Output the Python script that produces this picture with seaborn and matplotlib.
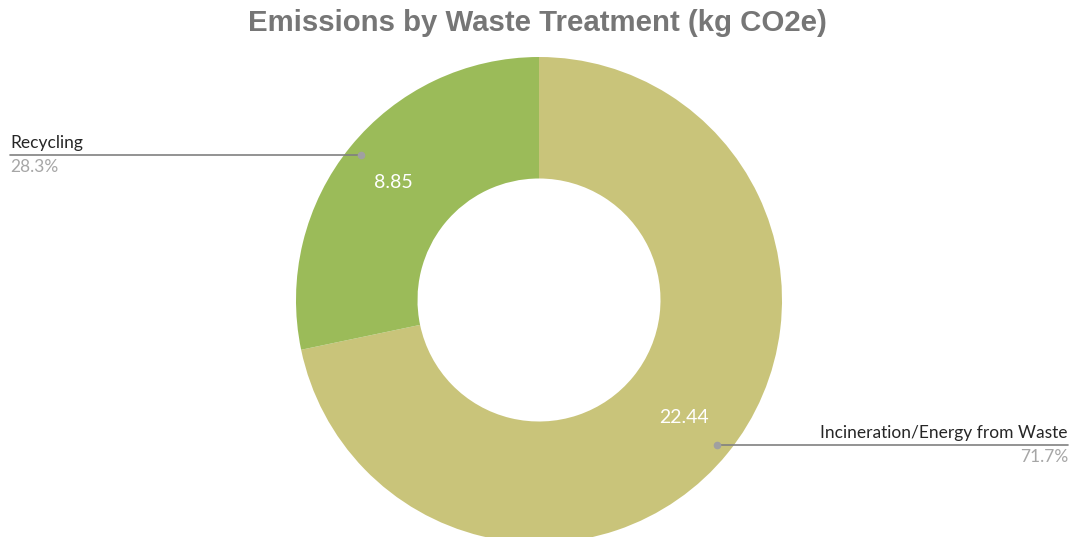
import matplotlib
matplotlib.use("Agg")
import matplotlib.pyplot as plt
import numpy as np
import seaborn as sns

categories = ["Incineration/Energy from Waste", "Recycling"]
values = [22.44, 8.85]
colors = ["#C9C47A", "#9BBB59"]
title = "Emissions by Waste Treatment (kg CO2e)"

sns.set_style("white")
plt.rcParams["font.family"] = ["Lato", "DejaVu Sans"]

W, H = 1075, 537
fig = plt.figure(figsize=(W / 100, H / 100), dpi=100)
ax = fig.add_axes([0, 0, 1, 1])

cx, cy, R = 539, H - 300, 243
total = sum(values)
wedges, _, autotexts = ax.pie(
    values, colors=colors, startangle=90, counterclock=False,
    center=(cx, cy), radius=R, frame=True,
    wedgeprops=dict(width=R * 0.5, edgecolor="none"),
    autopct=lambda p: f"{p * total / 100:.2f}", pctdistance=0.77,
    textprops=dict(color="white", fontsize=14),
)
ax.set_xlim(0, W)
ax.set_ylim(0, H)
ax.set_aspect("equal")
ax.axis("off")

# leader lines and category labels
for w, cat, v in zip(wedges, categories, values):
    mid = np.deg2rad((w.theta1 + w.theta2) / 2)
    px = cx + 0.945 * R * np.cos(mid)
    py = cy + 0.945 * R * np.sin(mid)
    pct = f"{v / total * 100:.1f}%"
    if np.cos(mid) < 0:
        x_end, ha = 10, "left"
    else:
        x_end, ha = 1068, "right"
    ax.plot([px, x_end], [py, py], color="#808080", lw=1.2)
    ax.plot(px, py, "o", color="#A0A0A0", ms=4.5)
    ax.text(x_end, py + 4, cat, ha=ha, va="bottom", fontsize=12.5, color="#262626")
    ax.text(x_end, py - 4, pct, ha=ha, va="top", fontsize=12.5, color="#A6A6A6")

fig.text(0.5, 1 - 23 / H, title, ha="center", va="center",
         fontsize=21.2, fontweight="heavy", color="#767676",
         family=["Liberation Sans", "DejaVu Sans"])

fig.savefig("out.png", dpi=100)
